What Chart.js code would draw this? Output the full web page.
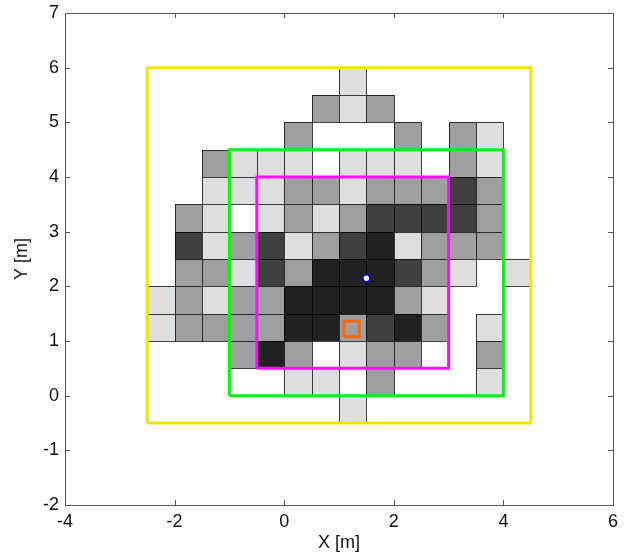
<!DOCTYPE html>
<html>
<head>
<meta charset="utf-8">
<script src="https://cdn.jsdelivr.net/npm/chart.js@4/dist/chart.umd.min.js"></script>
<style>
  html, body { margin: 0; padding: 0; background: #fff; }
  #wrap { width: 629px; height: 559px; }
</style>
</head>
<body>
<div id="wrap"><canvas id="chart" width="629" height="559"></canvas></div>
<script>
// grid cells: left edge of each column, bottom edge of each row (0.5 m cells)
const cellSize = 0.5;
const colLeft = [-2.5, -2, -1.5, -1, -0.5, 0, 0.5, 1, 1.5, 2, 2.5, 3, 3.5, 4];
const rowBottom = [5.5, 5, 4.5, 4, 3.5, 3, 2.5, 2, 1.5, 1, 0.5, 0, -0.5];
// level per cell: 0 empty, 1 light, 2 mid, 3 dark, 4 darkest
const row55 = [0,0,0,0,0,0,0,1,0,0,0,0,0,0];
const row50 = [0,0,0,0,0,0,2,1,2,0,0,0,0,0];
const row45 = [0,0,0,0,0,2,0,0,0,2,0,2,1,0];
const row40 = [0,0,2,1,1,1,0,1,1,1,0,2,1,0];
const row35 = [0,0,1,1,1,2,2,1,2,2,2,3,2,0];
const row30 = [0,2,1,0,1,2,1,2,3,3,3,3,2,0];
const row25 = [0,3,1,2,3,1,2,3,4,1,2,2,2,0];
const row20 = [0,2,2,1,3,2,4,4,4,3,2,1,0,1];
const row15 = [1,2,1,2,2,4,4,4,4,2,1,0,0,0];
const row10 = [1,2,2,2,2,4,4,2,3,4,2,0,1,0];
const row05 = [0,0,0,2,4,2,0,1,2,2,0,0,2,0];
const row00 = [0,0,0,0,0,1,1,0,2,0,0,0,1,0];
const rowM05 = [0,0,0,0,0,0,0,1,0,0,0,0,0,0];
const cellLevels = [row55, row50, row45, row40, row35, row30, row25, row20, row15, row10, row05, row00, rowM05];

// boxes as [x0, y0, x1, y1]
const yellowBox = [-2.5, -0.5, 4.5, 6];
const greenBox = [-1, 0, 4, 4.5];
const magentaBox = [-0.5, 0.5, 3, 4];
const orangeBox = [1.09, 1.08, 1.37, 1.36];
// marker point
const markerX = [1.5];
const markerY = [2.15];

const shadeColors = [null, '#dedede', '#9f9f9f', '#404040', '#212121'];
const fontFamily = "'Liberation Sans', Arial, sans-serif";

// closed rectangle path for a line dataset
function boxPoints(b) {
  return [
    { x: b[0], y: b[1] }, { x: b[2], y: b[1] },
    { x: b[2], y: b[3] }, { x: b[0], y: b[3] },
    { x: b[0], y: b[1] }
  ];
}

function boxDataset(b, color, width) {
  return {
    type: 'line',
    data: boxPoints(b),
    borderColor: color,
    borderWidth: width,
    pointRadius: 0,
    showLine: true,
    fill: false,
    tension: 0
  };
}

// draws the gray cells under the datasets, using the chart scales
const cellsPlugin = {
  id: 'cells',
  beforeDatasetsDraw(chart) {
    const ctx = chart.ctx;
    const xs = chart.scales.x;
    const ys = chart.scales.y;
    ctx.save();
    ctx.lineWidth = 1;
    ctx.strokeStyle = 'rgba(0,0,0,0.75)';
    cellLevels.forEach((row, r) => {
      row.forEach((lvl, c) => {
        if (!lvl) return;
        const x0 = Math.round(xs.getPixelForValue(colLeft[c]));
        const x1 = Math.round(xs.getPixelForValue(colLeft[c] + cellSize));
        const y0 = Math.round(ys.getPixelForValue(rowBottom[r] + cellSize));
        const y1 = Math.round(ys.getPixelForValue(rowBottom[r]));
        ctx.fillStyle = shadeColors[lvl];
        ctx.fillRect(x0, y0, x1 - x0, y1 - y0);
        ctx.strokeRect(x0 + 0.5, y0 + 0.5, x1 - x0, y1 - y0);
      });
    });
    ctx.restore();
  }
};

// axes box with inward tick marks on all four sides
const framePlugin = {
  id: 'frame',
  afterDraw(chart) {
    const ctx = chart.ctx;
    const a = chart.chartArea;
    const xs = chart.scales.x;
    const ys = chart.scales.y;
    const tl = 5;
    ctx.save();
    ctx.strokeStyle = '#555';
    ctx.lineWidth = 1;
    ctx.strokeRect(Math.round(a.left) + 0.5, Math.round(a.top) + 0.5,
      Math.round(a.right - a.left), Math.round(a.bottom - a.top));
    ctx.beginPath();
    xs.ticks.forEach(t => {
      const px = Math.round(xs.getPixelForValue(t.value)) + 0.5;
      ctx.moveTo(px, a.bottom); ctx.lineTo(px, a.bottom - tl);
      ctx.moveTo(px, a.top); ctx.lineTo(px, a.top + tl);
    });
    ys.ticks.forEach(t => {
      const py = Math.round(ys.getPixelForValue(t.value)) + 0.5;
      ctx.moveTo(a.left, py); ctx.lineTo(a.left + tl, py);
      ctx.moveTo(a.right, py); ctx.lineTo(a.right - tl, py);
    });
    ctx.stroke();
    ctx.restore();
  }
};

const ctx = document.getElementById('chart').getContext('2d');
const chart = new Chart(ctx, {
  type: 'scatter',
  data: {
    datasets: [
      boxDataset(yellowBox, '#f2e30c', 3),
      boxDataset(greenBox, '#10f010', 3),
      boxDataset(magentaBox, '#ff10ff', 3),
      boxDataset(orangeBox, '#f7680f', 3),
      {
        type: 'scatter',
        data: markerX.map((x, i) => ({ x: x, y: markerY[i] })),
        pointRadius: 3.5,
        pointBackgroundColor: '#ffffff',
        pointBorderColor: '#0000ff',
        pointBorderWidth: 1.5
      }
    ]
  },
  options: {
    responsive: false,
    animation: false,
    layout: { padding: { top: 13, right: 16, left: 0, bottom: 0 } },
    plugins: {
      legend: { display: false },
      tooltip: { enabled: false }
    },
    scales: {
      x: {
        type: 'linear',
        min: -4,
        max: 6,
        grid: { display: false, drawTicks: false },
        border: { display: false },
        ticks: { stepSize: 2, padding: 6, color: '#111', font: { family: fontFamily, size: 18 } },
        title: { display: true, text: 'X [m]', color: '#111', padding: { top: 0, bottom: 5 },
          font: { family: fontFamily, size: 18 } },
        afterFit(scale) {
          scale.height = 54;
          scale.paddingLeft = 0;
          scale.paddingRight = 0;
        }
      },
      y: {
        type: 'linear',
        min: -2,
        max: 7,
        grid: { display: false, drawTicks: false },
        border: { display: false },
        ticks: { stepSize: 1, padding: 6, color: '#111', font: { family: fontFamily, size: 18 } },
        title: { display: true, text: 'Y [m]', color: '#111', padding: { top: 11, bottom: 0 },
          font: { family: fontFamily, size: 18 } },
        afterFit(scale) {
          scale.width = 65;
          scale.paddingTop = 0;
          scale.paddingBottom = 0;
        }
      }
    }
  },
  plugins: [cellsPlugin, framePlugin]
});
</script>
</body>
</html>
